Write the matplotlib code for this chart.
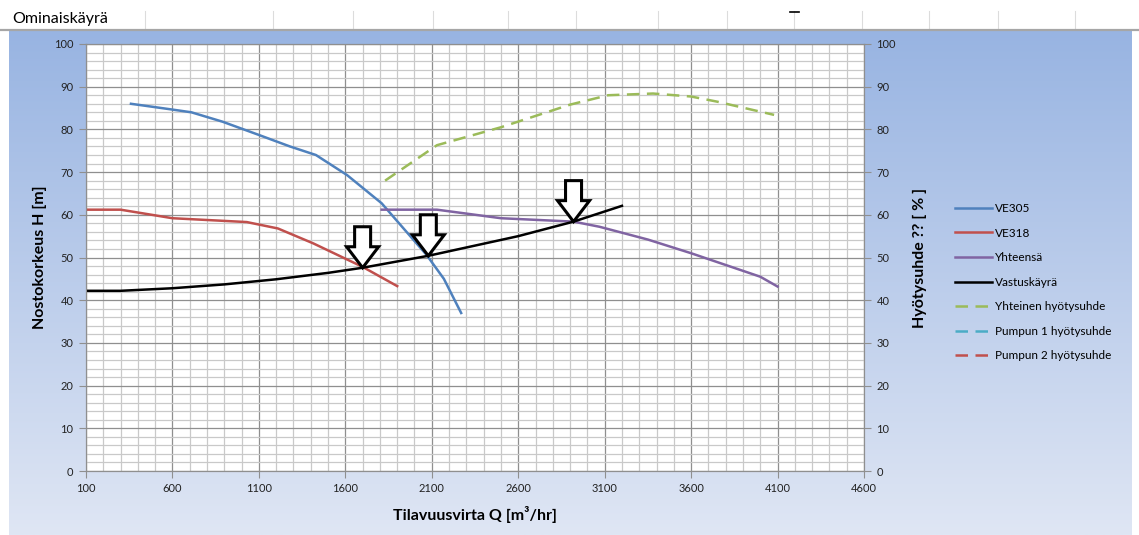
import numpy as np
import matplotlib
matplotlib.use("Agg")
import matplotlib.pyplot as plt
from matplotlib.patches import Polygon
from matplotlib.transforms import ScaledTranslation
from matplotlib.ticker import MultipleLocator

plt.rcParams['font.family'] = ['Lato', 'DejaVu Sans']

# ---------------- data ----------------
ve305_q = [360, 590, 710, 890, 1100, 1280, 1430, 1610, 1810, 2070, 2170, 2270]
ve305_h = [86, 84.7, 84, 81.8, 78.7, 76, 74, 69.3, 62.7, 50.6, 45, 37]

ve318_q = [100, 300, 600, 1030, 1210, 1415, 1700, 1900]
ve318_h = [61.2, 61.2, 59.2, 58.3, 56.8, 53.3, 47.8, 43.3]

total_q = [1810, 2130, 2500, 2920, 3070, 3350, 3600, 4000, 4100]
total_h = [61.2, 61.2, 59.2, 58.4, 57.2, 54.2, 51, 45.5, 43.2]

system_q = [100, 300, 600, 900, 1200, 1500, 1700, 2080, 2600, 2920, 3200]
system_h = [42.2, 42.2, 42.8, 43.7, 44.9, 46.4, 47.6, 50.4, 55.0, 58.4, 62.1]

eff_q = [1830, 2130, 2500, 2900, 3120, 3380, 3600, 3750, 4080]
eff_v = [68, 76.3, 80.5, 85.8, 88, 88.4, 87.7, 86.5, 83.4]

pump1_q, pump1_eff = [], []
pump2_q, pump2_eff = [], []

op_q = [1700, 2080, 2920]
op_h = [47.6, 50.4, 58.4]

x_ticks = [100, 600, 1100, 1600, 2100, 2600, 3100, 3600, 4100, 4600]
y_ticks = [0, 10, 20, 30, 40, 50, 60, 70, 80, 90, 100]

labels = ["VE305", "VE318", "Yhteensä", "Vastuskäyrä", "Yhteinen hyötysuhde",
          "Pumpun 1 hyötysuhde", "Pumpun 2 hyötysuhde"]

# ---------------- figure ----------------
W, H = 1139, 535
fig = plt.figure(figsize=(W / 100, H / 100), dpi=100)

bg = fig.add_axes([0, 0, 1, 1], zorder=-5)
bg.set_xlim(0, W)
bg.set_ylim(H, 0)
bg.axis('off')
grad = np.linspace(0, 1, 256)[:, None]
top_c = np.array([0x98, 0xb4, 0xe2]) / 255
bot_c = np.array([0xdf, 0xe6, 0xf4]) / 255
img = top_c[None, None, :] * (1 - grad[..., None]) + bot_c[None, None, :] * grad[..., None]
img = np.repeat(img, 2, axis=1)
bg.imshow(img, extent=[9, 1132, 535, 30], aspect='auto', zorder=0)
bg.plot([0, W], [29.5, 29.5], color='#a6a6a6', lw=1.6, zorder=2)
for xl in [145, 273, 353, 433, 508, 576, 658, 727, 794, 862, 929, 998, 1075]:
    bg.plot([xl, xl], [11, 28], color='#dcdcdc', lw=0.8, zorder=1)
bg.plot([790, 799], [12, 12], color='black', lw=1.2, zorder=2)
bg.text(12, 19, "Ominaiskäyrä", fontsize=11.5, va='center', ha='left', color='black')

ax = fig.add_axes([86 / W, 1 - 471 / H, 778 / W, 427 / H])
ax.set_facecolor('white')
ax.set_xlim(100, 4600)
ax.set_ylim(0, 100)
ax.set_xticks(x_ticks)
ax.set_yticks(y_ticks)
ax.xaxis.set_minor_locator(MultipleLocator(100))
ax.yaxis.set_minor_locator(MultipleLocator(2))
ax.grid(which='minor', color='#c9c9c9', lw=0.9)
ax.grid(which='major', color='#8f8f8f', lw=0.9)
ax.set_axisbelow(True)
ax.tick_params(which='minor', length=0)
ax.tick_params(which='major', length=5, color='#8f8f8f', labelsize=8, labelcolor='#222222', pad=4)
for s in ax.spines.values():
    s.set_color('#8f8f8f')

ax2 = ax.twinx()
ax2.set_ylim(0, 100)
ax2.set_yticks(y_ticks)
ax2.tick_params(which='major', length=5, color='#8f8f8f', labelsize=8, labelcolor='#222222', pad=4)
for s in ax2.spines.values():
    s.set_color('#8f8f8f')

lw = 1.8
h1, = ax.plot(ve305_q, ve305_h, color='#4f81bd', lw=lw, zorder=3)
h2, = ax.plot(ve318_q, ve318_h, color='#c0504d', lw=lw, zorder=3)
h3, = ax.plot(total_q, total_h, color='#8064a2', lw=lw, zorder=3)
h4, = ax.plot(system_q, system_h, color='black', lw=lw, zorder=4)
h5, = ax2.plot(eff_q, eff_v, color='#9bbb59', lw=lw, dashes=(5, 3))
h6, = ax2.plot(pump1_q, pump1_eff, color='#4bacc6', lw=lw, dashes=(5, 3))
h7, = ax2.plot(pump2_q, pump2_eff, color='#c0504d', lw=lw, dashes=(5, 3))

# hollow block arrows pointing to operating points (shape in pixels)
shape_px = [(0, 0), (-16, 21), (-8, 21), (-8, 41), (8, 41), (8, 21), (16, 21)]
for q, h in zip(op_q, op_h):
    tr = fig.dpi_scale_trans + ScaledTranslation(q, h, ax.transData)
    verts = [(x / 100, y / 100) for x, y in shape_px]
    ax.add_patch(Polygon(verts, closed=True, transform=tr, facecolor='white',
                         edgecolor='black', lw=2.2, zorder=6, joinstyle='miter'))

ax.set_xlabel("Tilavuusvirta Q [m³/hr]", fontsize=11.5, fontweight='bold', labelpad=8)
ax.set_ylabel("Nostokorkeus H [m]", fontsize=11.5, fontweight='bold', labelpad=5)
ax2.set_ylabel("Hyötysuhde ?? [ % ]", fontsize=11.5, fontweight='bold', labelpad=12)

fig.legend([h1, h2, h3, h4, h5, h6, h7], labels, loc='upper left',
           bbox_to_anchor=(955 / W, 1 - 203 / H), frameon=False, fontsize=8.5,
           handlelength=3.1, handletextpad=0.3, labelspacing=1.15,
           borderpad=0, borderaxespad=0)

fig.savefig("out.png", dpi=100)
